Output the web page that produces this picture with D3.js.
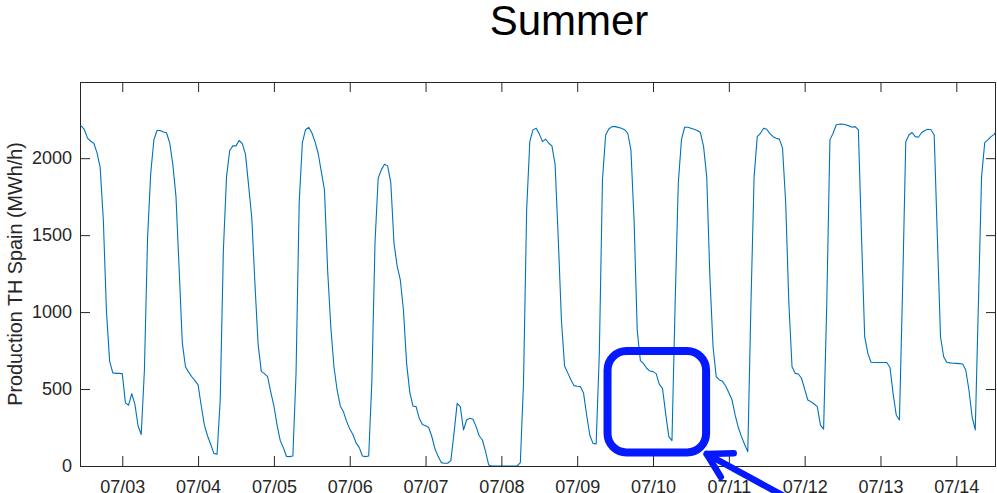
<!DOCTYPE html>
<html>
<head>
<meta charset="utf-8">
<script src="https://cdn.jsdelivr.net/npm/d3@7"></script>
<style>
  html, body { margin: 0; padding: 0; background: #fff; }
  svg { display: block; font-family: "Liberation Sans", Arial, Helvetica, sans-serif; }
</style>
</head>
<body>
<svg id="chart" width="997" height="493"></svg>
<script>
// ---------------- data ----------------
const titleText = "Summer";
const yLabel = "Production TH Spain (MWh/h)";
// first sample: 2 July, 11:00 (hourly samples)
const seriesStart = [7, 2, 11];
// hourly thermal-solar production, MWh/h
const day0702 = [2210, 2185, 2130, 2110, 2097, 2035, 1940, 1600, 1000, 680, 605, 602, 602];
const day0703 = [600, 410, 395, 470, 400, 260, 205, 620, 1480, 1900, 2120, 2180, 2180, 2170, 2165, 2100, 1960, 1750, 1280, 800, 645, 610, 580, 555];
const day0704 = [527, 390, 265, 195, 140, 82, 76, 430, 1400, 1880, 2050, 2080, 2080, 2115, 2095, 2025, 1820, 1610, 1180, 790, 615, 600, 581, 480];
const day0705 = [390, 265, 165, 118, 62, 61, 65, 600, 1710, 2100, 2185, 2200, 2165, 2108, 2032, 1913, 1794, 1274, 905, 645, 494, 390, 353, 290];
const day0706 = [240, 205, 150, 121, 65, 61, 65, 550, 1450, 1870, 1924, 1960, 1950, 1840, 1450, 1300, 1210, 1014, 667, 480, 390, 386, 310, 270];
const day0707 = [262, 250, 190, 110, 61, 22, 18, 18, 35, 212, 407, 386, 234, 299, 310, 304, 256, 195, 169, 93, 6, 0, 0, 0];
const day0708 = [0, 0, 0, 0, 0, 0, 22, 537, 1664, 2108, 2184, 2195, 2158, 2108, 2124, 2097, 2080, 1960, 1480, 950, 650, 605, 560, 522];
const day0709 = [518, 516, 475, 330, 200, 147, 143, 730, 1860, 2150, 2190, 2205, 2205, 2200, 2195, 2185, 2162, 2054, 1599, 880, 685, 665, 635, 617];
const day0710 = [613, 600, 530, 505, 340, 191, 165, 1057, 1837, 2119, 2201, 2201, 2195, 2188, 2180, 2167, 2075, 1880, 1230, 775, 581, 559, 550, 520];
const day0711 = [476, 430, 330, 250, 191, 140, 93, 1057, 1880, 2140, 2162, 2195, 2188, 2160, 2140, 2130, 2124, 2065, 1707, 1057, 645, 602, 598, 570];
const day0712 = [500, 429, 418, 403, 386, 266, 240, 1057, 2119, 2162, 2217, 2221, 2221, 2217, 2210, 2201, 2205, 2184, 1490, 840, 732, 674, 672, 672];
const day0713 = [672, 672, 672, 640, 470, 330, 299, 1150, 2105, 2151, 2167, 2140, 2136, 2165, 2180, 2188, 2185, 2151, 1490, 840, 710, 674, 670, 668];
const day0714 = [667, 665, 663, 624, 494, 320, 234, 1057, 1880, 2101, 2119, 2140, 2155, 2185];

const production = [].concat(day0702, day0703, day0704, day0705, day0706, day0707,
  day0708, day0709, day0710, day0711, day0712, day0713, day0714);

const xTickDays = [3, 4, 5, 6, 7, 8, 9, 10, 11, 12, 13, 14];   // July
const xTickLabels = ["07/03", "07/04", "07/05", "07/06", "07/07", "07/08",
                     "07/09", "07/10", "07/11", "07/12", "07/13", "07/14"];
const yTicks = [0, 500, 1000, 1500, 2000];
const yTickLabels = ["0", "500", "1000", "1500", "2000"];

// axis limits
const xLimits = [[7, 2, 10, 37], [7, 14, 12, 34]];   // [month, day, hour, minute]
const yLimits = [0, 2495];

// annotation (data coordinates)
const boxRange = { from: [7, 9, 9, 36], to: [7, 10, 16, 48], low: 88, high: 747 };
const arrowTip = { at: [7, 10, 17, 0], value: 78 };

// ---------------- drawing ----------------
const YEAR = 2019;
const toDate = (a) => new Date(Date.UTC(YEAR, a[0] - 1, a[1], a[2] || 0, a[3] || 0));
const startMs = toDate(seriesStart).getTime();
const series = production.map((v, i) => ({ t: new Date(startMs + i * 3600e3), v }));

const W = 997, H = 493;
const margin = { left: 80, right: 1, top: 82, bottom: 27 };
const plotW = W - margin.left - margin.right;
const plotH = H - margin.top - margin.bottom;
const textColor = "#262626";

const svg = d3.select("#chart");
const x = d3.scaleUtc().domain(xLimits.map(toDate)).range([margin.left, margin.left + plotW]);
const y = d3.scaleLinear().domain(yLimits).range([margin.top + plotH, margin.top]);

svg.append("defs").append("clipPath").attr("id", "plotClip")
  .append("rect").attr("x", margin.left).attr("y", margin.top - 2)
  .attr("width", plotW).attr("height", plotH + 4);

// line
const line = d3.line().x(d => x(d.t)).y(d => y(d.v));
svg.append("path").datum(series)
  .attr("clip-path", "url(#plotClip)")
  .attr("fill", "none").attr("stroke", "#0072BD").attr("stroke-width", 1.1)
  .attr("stroke-linejoin", "round")
  .attr("d", line);

// axes (box with inward ticks)
const tickDates = xTickDays.map(d => toDate([7, d, 0, 0]));
const fmtX = (d, i) => xTickLabels[i];
const fmtY = (d, i) => yTickLabels[i];

const gxB = svg.append("g").attr("transform", `translate(0,${margin.top + plotH})`)
  .call(d3.axisBottom(x).tickValues(tickDates).tickFormat(fmtX).tickSizeInner(-10).tickSizeOuter(0).tickPadding(17));
const gxT = svg.append("g").attr("transform", `translate(0,${margin.top})`)
  .call(d3.axisTop(x).tickValues(tickDates).tickFormat("").tickSizeInner(-10).tickSizeOuter(0));
const gyL = svg.append("g").attr("transform", `translate(${margin.left},0)`)
  .call(d3.axisLeft(y).tickValues(yTicks).tickFormat(fmtY).tickSizeInner(-10).tickSizeOuter(0).tickPadding(8));
const gyR = svg.append("g").attr("transform", `translate(${margin.left + plotW},0)`)
  .call(d3.axisRight(y).tickValues(yTicks).tickFormat("").tickSizeInner(-10).tickSizeOuter(0));

[gxB, gxT, gyL, gyR].forEach(g => {
  g.select(".domain").remove();
  g.selectAll("line").attr("stroke", textColor).attr("stroke-width", 1);
  g.selectAll("text").attr("fill", textColor).style("font-size", "18px")
    .style("font-family", '"Liberation Sans", Arial, Helvetica, sans-serif');
});
gxB.selectAll("text").attr("dy", null).attr("dominant-baseline", "auto").attr("y", 27);

svg.append("rect")
  .attr("x", margin.left + 0.5).attr("y", margin.top + 0.5)
  .attr("width", plotW - 1).attr("height", plotH)
  .attr("fill", "none").attr("stroke", textColor).attr("stroke-width", 1);

// y label
svg.append("text")
  .attr("transform", `translate(22,${margin.top + plotH / 2}) rotate(-90)`)
  .attr("text-anchor", "middle")
  .attr("fill", textColor).style("font-size", "19.8px")
  .text(yLabel);

// title
svg.append("text")
  .attr("x", 569).attr("y", 35)
  .attr("text-anchor", "middle")
  .attr("fill", "#000").style("font-size", "42px")
  .text(titleText);

// annotation: rounded box
const annColor = "#0519ff";
const bx0 = x(toDate(boxRange.from)), bx1 = x(toDate(boxRange.to));
const by0 = y(boxRange.high), by1 = y(boxRange.low);
svg.append("rect")
  .attr("x", bx0).attr("y", by0).attr("width", bx1 - bx0).attr("height", by1 - by0)
  .attr("rx", 19).attr("ry", 19)
  .attr("fill", "none").attr("stroke", annColor).attr("stroke-width", 8);

// annotation: arrow pointing to the box
const tipX = x(toDate(arrowTip.at)), tipY = y(arrowTip.value);
const ang = 28.6 * Math.PI / 180;       // shaft direction (down-right)
const shaftLen = 120, headLen = 27, headSpread = 30 * Math.PI / 180;
const endX = tipX + shaftLen * Math.cos(ang), endY = tipY + shaftLen * Math.sin(ang);
const h1 = [tipX + headLen * Math.cos(ang - headSpread), tipY + headLen * Math.sin(ang - headSpread)];
const h2 = [tipX + headLen * Math.cos(ang + headSpread), tipY + headLen * Math.sin(ang + headSpread)];
const arrow = svg.append("g").attr("stroke", annColor).attr("stroke-width", 6.5)
  .attr("stroke-linecap", "round").attr("stroke-linejoin", "round").attr("fill", "none");
arrow.append("line").attr("x1", tipX).attr("y1", tipY).attr("x2", endX).attr("y2", endY);
arrow.append("path").attr("d", `M${h1[0]},${h1[1]}L${tipX},${tipY}L${h2[0]},${h2[1]}`);
</script>
</body>
</html>
